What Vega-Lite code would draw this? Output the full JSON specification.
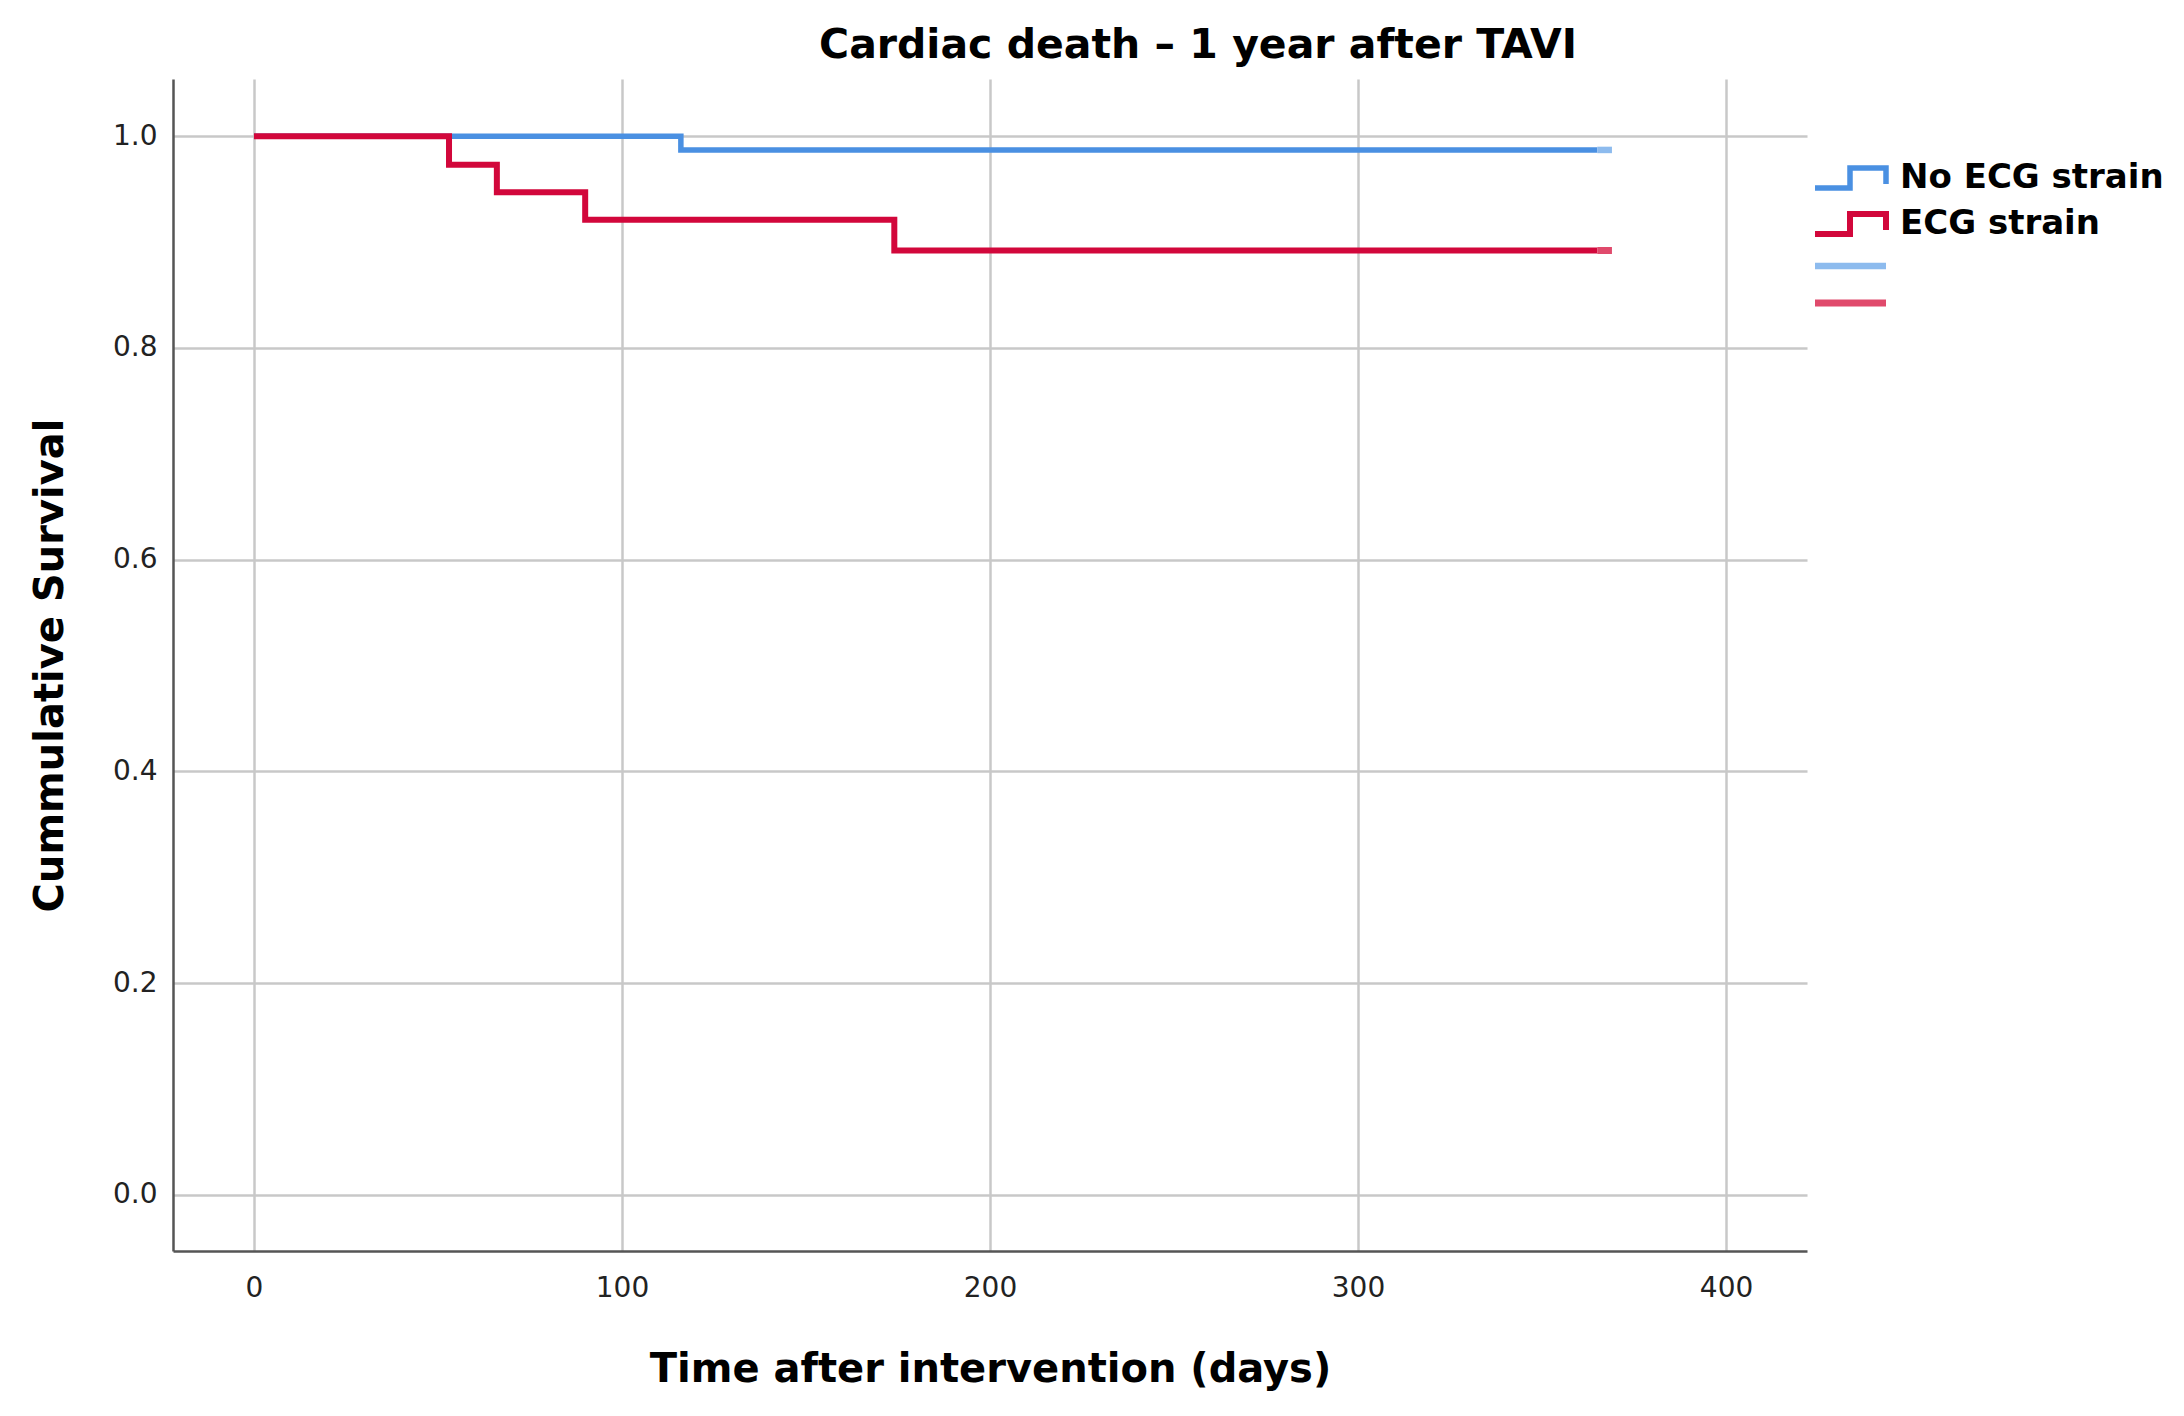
{
  "$schema": "https://vega.github.io/schema/vega-lite/v6.json",
  "width": 1634,
  "height": 1172,
  "autosize": "none",
  "padding": {"left": 173, "top": 79, "right": 377, "bottom": 165},
  "background": "white",
  "title": {
    "text": "Cardiac death – 1 year after TAVI",
    "anchor": "middle",
    "frame": "group",
    "dx": 208,
    "offset": 12,
    "font": "DejaVu Sans",
    "fontSize": 41,
    "fontWeight": "bold",
    "color": "#000000"
  },
  "config": {
    "view": {"stroke": null},
    "axis": {
      "grid": true,
      "gridColor": "#c8c8c8",
      "gridWidth": 2.5,
      "domainColor": "#555555",
      "domainWidth": 2.5,
      "ticks": false,
      "labelFont": "DejaVu Sans",
      "labelFontSize": 28,
      "labelColor": "#222222",
      "titleFont": "DejaVu Sans",
      "titleFontSize": 40,
      "titleFontWeight": "bold",
      "titleColor": "#000000"
    }
  },
  "data": {
    "values": [
      {"series": "No ECG strain", "day": 0, "survival": 1.0},
      {"series": "No ECG strain", "day": 116, "survival": 0.987},
      {"series": "No ECG strain", "day": 365, "survival": 0.987},
      {"series": "No ECG strain (censored)", "day": 365, "survival": 0.987},
      {"series": "No ECG strain (censored)", "day": 369, "survival": 0.987},
      {"series": "ECG strain", "day": 0, "survival": 1.0},
      {"series": "ECG strain", "day": 53, "survival": 0.973},
      {"series": "ECG strain", "day": 66, "survival": 0.947},
      {"series": "ECG strain", "day": 90, "survival": 0.921},
      {"series": "ECG strain", "day": 174, "survival": 0.892},
      {"series": "ECG strain", "day": 365, "survival": 0.892},
      {"series": "ECG strain (censored)", "day": 365, "survival": 0.892},
      {"series": "ECG strain (censored)", "day": 369, "survival": 0.892}
    ]
  },
  "encoding": {
    "x": {
      "field": "day",
      "type": "quantitative",
      "scale": {"domain": [-22, 422], "nice": false, "zero": false},
      "axis": {
        "title": "Time after intervention (days)",
        "values": [0, 100, 200, 300, 400],
        "labelPadding": 23,
        "titlePadding": 47
      }
    },
    "y": {
      "field": "survival",
      "type": "quantitative",
      "scale": {"domain": [-0.053, 1.054], "nice": false, "zero": false},
      "axis": {
        "title": "Cummulative Survival",
        "values": [0, 0.2, 0.4, 0.6, 0.8, 1.0],
        "format": ".1f",
        "labelPadding": 16,
        "titlePadding": 42
      }
    },
    "color": {
      "field": "series",
      "type": "nominal",
      "scale": {
        "domain": ["No ECG strain", "ECG strain", "No ECG strain (censored)", "ECG strain (censored)"],
        "range": ["#4a90e2", "#d2073b", "#8dbbee", "#e04a6c"]
      },
      "legend": {
        "title": null,
        "orient": "none",
        "legendX": 1661,
        "legendY": 82,
        "padding": 0,
        "symbolSize": 400,
        "labelOffset": 32,
        "labelLimit": 0,
        "rowPadding": 3,
        "labelFont": "DejaVu Sans",
        "labelFontSize": 34,
        "labelFontWeight": "bold",
        "labelColor": "#000000",
        "labelExpr": "indexof(datum.label, 'censored') >= 0 ? '' : datum.label",
        "encode": {
          "symbols": {
            "update": {
              "shape": {"signal": "indexof(datum.value, 'censored') >= 0 ? 'M-3.6,0H3.5' : 'M-3.6,1.0H-0.1V-1.0H3.5V0.6'"},
              "fill": {"value": "transparent"}
            }
          }
        }
      }
    },
    "strokeWidth": {
      "field": "series",
      "type": "nominal",
      "scale": {
        "domain": ["No ECG strain", "ECG strain", "No ECG strain (censored)", "ECG strain (censored)"],
        "range": [5.5, 7, 3.5, 3.5]
      }
    }
  },
  "layer": [
    {
      "transform": [{"filter": "datum.series == 'No ECG strain' || datum.series == 'No ECG strain (censored)'"}],
      "mark": {"type": "line", "interpolate": "step-after"}
    },
    {
      "transform": [{"filter": "datum.series == 'ECG strain' || datum.series == 'ECG strain (censored)'"}],
      "mark": {"type": "line", "interpolate": "step-after"}
    }
  ]
}
